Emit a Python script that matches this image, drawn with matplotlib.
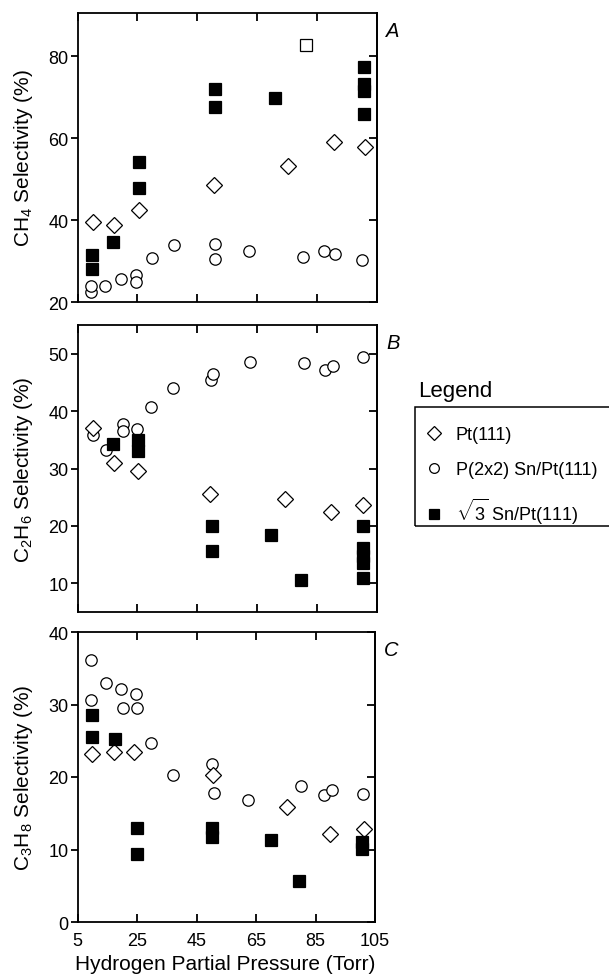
import matplotlib
matplotlib.use('Agg')
import matplotlib.pyplot as plt
from matplotlib.lines import Line2D
from matplotlib.patches import Rectangle

plt.rcParams['font.family'] = ['Liberation Sans', 'DejaVu Sans']
plt.rcParams['mathtext.fontset'] = 'custom'
plt.rcParams['mathtext.rm'] = 'Liberation Sans'
plt.rcParams['mathtext.it'] = 'Liberation Sans:italic'
plt.rcParams['mathtext.bf'] = 'Liberation Sans:bold'

# ---------------- data ----------------
x_ticks = [5, 25, 45, 65, 85, 105]
series_labels = ['Pt(111)', 'P(2x2) Sn/Pt(111)', r'$\sqrt{3}$ Sn/Pt(111)']

# Panel A: CH4 selectivity
pt_x_A = [10.1, 17.1, 25.4, 50.7, 75.4, 90.7, 101.0]
pt_y_A = [39.6, 38.9, 42.5, 48.6, 53.1, 59.1, 57.7]
p22_x_A = [9.6, 9.6, 14.3, 19.6, 24.6, 24.6, 29.8, 37.3, 51.0, 51.0, 62.3, 80.4, 87.3, 91.0, 100.1]
p22_y_A = [22.4, 23.8, 23.9, 25.6, 26.6, 25.0, 30.7, 33.9, 34.1, 30.5, 32.5, 31.0, 32.5, 31.7, 30.2]
r3_x_A = [9.8, 9.8, 17.0, 25.5, 25.5, 51.0, 51.0, 71.0, 100.5, 100.5, 100.5, 100.5]
r3_y_A = [31.5, 28.0, 34.6, 54.1, 47.8, 72.0, 67.6, 69.8, 77.3, 73.2, 71.5, 65.9]
open_sq_x_A = [81.2]
open_sq_y_A = [82.7]

# Panel B: C2H6 selectivity
pt_x_B = [10.3, 17.1, 25.1, 49.2, 74.3, 89.6, 100.4]
pt_y_B = [37.1, 31.0, 29.5, 25.6, 24.6, 22.5, 23.6]
p22_x_B = [10.1, 14.6, 20.1, 20.1, 24.9, 29.6, 36.8, 49.6, 50.4, 62.6, 80.7, 87.7, 90.4, 100.4]
p22_y_B = [35.9, 33.3, 37.8, 36.6, 36.9, 40.7, 44.0, 45.5, 46.5, 48.6, 48.3, 47.2, 47.8, 49.4]
r3_x_B = [16.8, 25.1, 25.1, 49.8, 49.8, 69.6, 79.6, 100.4, 100.4, 100.4, 100.4, 100.4]
r3_y_B = [34.3, 34.9, 33.1, 20.0, 15.6, 18.4, 10.6, 20.0, 16.2, 14.8, 13.6, 11.0]

# Panel C: C3H8 selectivity
pt_x_C = [9.9, 17.2, 24.0, 50.5, 75.3, 90.0, 101.3]
pt_y_C = [23.2, 23.4, 23.4, 20.3, 15.8, 12.2, 12.8]
p22_x_C = [9.5, 9.5, 14.7, 19.7, 20.4, 24.5, 25.1, 29.8, 37.2, 50.2, 51.0, 62.3, 80.2, 87.7, 90.5, 101.0]
p22_y_C = [36.1, 30.6, 33.0, 32.2, 29.5, 31.5, 29.5, 24.7, 20.3, 21.8, 17.8, 16.8, 18.8, 17.5, 18.2, 17.7]
r3_x_C = [9.9, 9.9, 17.5, 25.1, 25.1, 50.2, 50.2, 70.0, 79.6, 100.7, 100.7]
r3_y_C = [28.5, 25.5, 25.3, 12.9, 9.4, 12.9, 11.7, 11.3, 5.7, 11.0, 10.1]

# ---------------- figure ----------------
W, H = 609, 979
fig = plt.figure(figsize=(W / 100, H / 100), dpi=100)


def axrect(l, t, r, b):
    return [l / W, 1 - b / H, (r - l) / W, (b - t) / H]


panels = [
    dict(rect=axrect(77.5, 14, 377, 303), ylim=(20, 90.5), yticks=[20, 40, 60, 80],
         ylabel=r'CH$_4$ Selectivity (%)', letter='A',
         pt=(pt_x_A, pt_y_A), p22=(p22_x_A, p22_y_A), r3=(r3_x_A, r3_y_A)),
    dict(rect=axrect(77.5, 326, 377, 613), ylim=(5, 55), yticks=[10, 20, 30, 40, 50],
         ylabel=r'C$_2$H$_6$ Selectivity (%)', letter='B',
         pt=(pt_x_B, pt_y_B), p22=(p22_x_B, p22_y_B), r3=(r3_x_B, r3_y_B)),
    dict(rect=axrect(77.5, 633, 375, 923), ylim=(0, 40), yticks=[0, 10, 20, 30, 40],
         ylabel=r'C$_3$H$_8$ Selectivity (%)', letter='C',
         pt=(pt_x_C, pt_y_C), p22=(p22_x_C, p22_y_C), r3=(r3_x_C, r3_y_C)),
]

for i, p in enumerate(panels):
    ax = fig.add_axes(p['rect'])
    ax.plot(*p['p22'], linestyle='none', marker='o', ms=8.2, mfc='white', mec='black', mew=0.9, zorder=3)
    ax.plot(*p['pt'], linestyle='none', marker='D', ms=7.8, mfc='white', mec='black', mew=0.9, zorder=4)
    ax.plot(*p['r3'], linestyle='none', marker='s', ms=8.0, mfc='black', mec='black', mew=0.9, zorder=5)
    if i == 0:
        ax.plot(open_sq_x_A, open_sq_y_A, linestyle='none', marker='s', ms=8.0,
                mfc='white', mec='black', mew=0.9, zorder=5)
    ax.set_xlim(5, 105)
    ax.set_ylim(*p['ylim'])
    ax.set_xticks(x_ticks)
    ax.set_yticks(p['yticks'])
    for s in ax.spines.values():
        s.set_linewidth(1.3)
    ax.tick_params(axis='y', direction='out', length=5, width=1.3, pad=1.5,
                   left=True, right=False, labelsize=13)
    ax.tick_params(axis='x', direction='in', length=6, width=1.3, pad=7,
                   top=True, bottom=True, labelbottom=(i == 2), labelsize=13)
    sec = ax.secondary_yaxis('right')
    sec.set_yticks(p['yticks'])
    sec.tick_params(direction='in', length=6, width=1.3, labelright=False)
    sec.spines['right'].set_linewidth(1.3)
    ax.set_ylabel(p['ylabel'], fontsize=15)
    ax.yaxis.set_label_coords(-0.142, 0.5)
    ax.text(1.03, 0.94, p['letter'], transform=ax.transAxes, fontsize=14.5,
            style='italic', ha='left', va='center')
    if i == 2:
        ax.set_xlabel('Hydrogen Partial Pressure (Torr)', fontsize=15)
        ax.xaxis.set_label_coords(0.497, -0.11)

# ---------------- legend ----------------
fig.text(418 / W, 1 - 392 / H, 'Legend', fontsize=16, ha='left', va='center')
fig.add_artist(Rectangle((415 / W, 1 - 527 / H), (640 - 415) / W, (527 - 408) / H,
                         transform=fig.transFigure, fill=False, lw=1.1, ec='black',
                         clip_on=False))
handles = [
    Line2D([], [], linestyle='none', marker='D', ms=7.6, mfc='white', mec='black', mew=0.9),
    Line2D([], [], linestyle='none', marker='o', ms=7.0, mfc='white', mec='black', mew=0.9),
    Line2D([], [], linestyle='none', marker='s', ms=7.0, mfc='black', mec='black', mew=0.9),
]
fig.legend(handles, series_labels, loc='upper left', bbox_to_anchor=(423 / W, 1 - 427 / H),
           frameon=False, fontsize=13, handlelength=1.2, handletextpad=0.6,
           labelspacing=1.0, borderpad=0, borderaxespad=0)

fig.savefig('out.png', dpi=100)
